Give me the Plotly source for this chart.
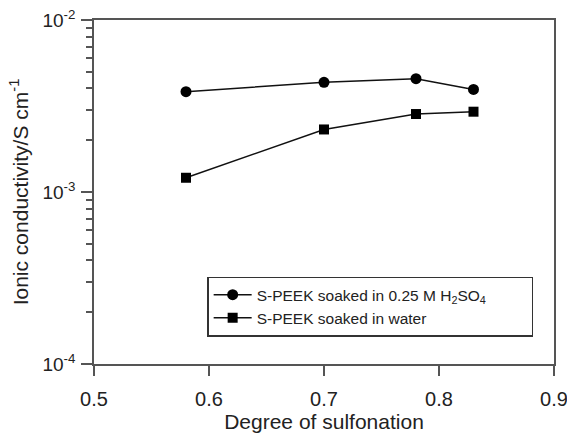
import plotly.graph_objects as go

dos = [0.58, 0.70, 0.78, 0.83]
acid = [3.83e-3, 4.34e-3, 4.56e-3, 3.95e-3]
water = [1.21e-3, 2.31e-3, 2.84e-3, 2.93e-3]
ytick_vals = [1e-4, 1e-3, 1e-2]
ytick_text = ["10<sup>-4</sup>", "10<sup>-3</sup>", "10<sup>-2</sup>"]
yminor_vals = [k * 10.0**e for e in (-4, -3) for k in range(2, 10)]
xtick_vals = [0.5, 0.6, 0.7, 0.8, 0.9]
xtick_text = ["0.5", "0.6", "0.7", "0.8", "0.9"]

font = "Liberation Sans, Arial, sans-serif"
fig = go.Figure()
fig.add_trace(go.Scatter(
    x=dos, y=acid, mode="lines+markers",
    name="S-PEEK soaked in 0.25 M H<sub>2</sub>SO<sub>4</sub>",
    line=dict(color="#111", width=1.5),
    marker=dict(symbol="circle", size=11, color="black"),
))
fig.add_trace(go.Scatter(
    x=dos, y=water, mode="lines+markers",
    name="S-PEEK soaked in water",
    line=dict(color="#111", width=1.5),
    marker=dict(symbol="square", size=10, color="black"),
))

fig.update_layout(
    width=567, height=433,
    margin=dict(l=94, r=13, t=20, b=69),
    plot_bgcolor="white", paper_bgcolor="white",
    font=dict(family=font, size=20, color="#222"),
    xaxis=dict(range=[0.5, 0.9], tickmode="array", tickvals=xtick_vals, ticktext=xtick_text,
               ticklen=10, showgrid=False, zeroline=False, showline=True, linecolor="#555",
               linewidth=1.5, mirror=True, ticks="outside", tickcolor="#555", tickwidth=1.5,
               tickfont=dict(family=font, size=20, color="#222"), ticklabelstandoff=6,
               ticklabeloverflow="allow", automargin=False,
               title=dict(text="Degree of sulfonation", font=dict(family=font, size=21, color="#222"), standoff=0)),
    yaxis=dict(type="log", range=[-4, -2], tickmode="array", tickvals=ytick_vals, ticktext=ytick_text,
               ticklen=11, showgrid=False, zeroline=False, showline=True, linecolor="#555",
               linewidth=1.5, mirror=True, ticks="outside", tickcolor="#555", tickwidth=1.5,
               tickfont=dict(family=font, size=19, color="#222"), ticklabelstandoff=2,
               ticklabeloverflow="allow", automargin=False,
               minor=dict(tickvals=yminor_vals, ticks="outside", ticklen=6, tickcolor="#555", tickwidth=1.5),
               title=dict(text="Ionic conductivity/S cm<sup>-1</sup>", font=dict(family=font, size=21, color="#222"), standoff=8)),
    legend=dict(x=0.246, y=0.254, xanchor="left", yanchor="top", orientation="h",
                bordercolor="#333", borderwidth=1.5, bgcolor="white",
                font=dict(family=font, size=15.5, color="#222"),
                itemwidth=38, tracegroupgap=0,
                entrywidth=270, entrywidthmode="pixels"),
    showlegend=True,
)
fig.write_html("out.html")
